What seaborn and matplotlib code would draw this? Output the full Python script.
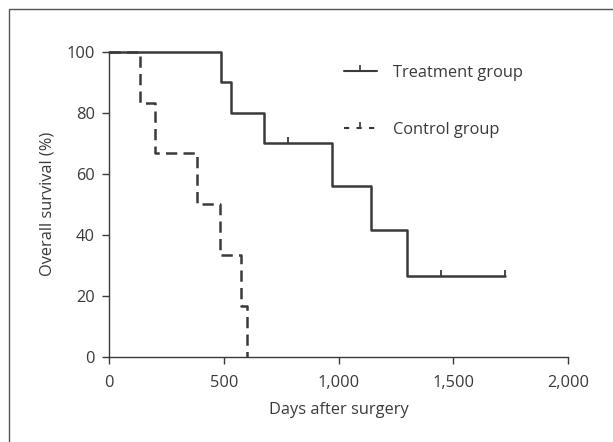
import numpy as np
import pandas as pd
import matplotlib
matplotlib.use("Agg")
import matplotlib.pyplot as plt
from matplotlib.lines import Line2D
from matplotlib.patches import Rectangle
from matplotlib.ticker import FuncFormatter
import seaborn as sns

# data
treat_days = [0, 488, 532, 675, 970, 1140, 1299, 1726]
treat_surv = [100, 90, 80, 70, 56, 41.5, 26.5, 26.5]
treat_cens_days = [779, 1445, 1726]
treat_cens_surv = [70, 26.5, 26.5]
ctrl_days = [0, 135, 200, 382, 484, 575, 600]
ctrl_surv = [100, 83.3, 66.7, 50, 33.3, 16.7, 0]
x_ticks = [0, 500, 1000, 1500, 2000]
y_ticks = [0, 20, 40, 60, 80, 100]
labels = ["Treatment group", "Control group"]

sns.set_theme(style="white")
plt.rcParams['font.family'] = ['Open Sans', 'DejaVu Sans']

ink = "#3a3a3a"
fs = 11.8
fig = plt.figure(figsize=(6.13, 4.42), dpi=100)
ax = fig.add_axes([109/613, 1-357/442, 459/613, (357-51.7)/442])

df_t = pd.DataFrame({"day": treat_days, "surv": treat_surv})
df_c = pd.DataFrame({"day": ctrl_days, "surv": ctrl_surv})
sns.lineplot(data=df_t, x="day", y="surv", ax=ax, drawstyle="steps-post",
             estimator=None, color=ink, lw=1.8, clip_on=False)
sns.lineplot(data=df_c, x="day", y="surv", ax=ax, drawstyle="steps-post",
             estimator=None, color=ink, lw=1.8, dashes=False, clip_on=False,
             linestyle=(0, (4.5, 2.5)))
tick_marker = [(0, 0), (0, 1)]
ax.plot(treat_cens_days, treat_cens_surv, linestyle="none", marker=tick_marker,
        markersize=9, markeredgewidth=1.3, color=ink, clip_on=False)

ax.set_xlim(0, 2000)
ax.set_ylim(0, 100)
ax.set_xticks(x_ticks)
ax.set_yticks(y_ticks)
ax.xaxis.set_major_formatter(FuncFormatter(lambda v, p: f"{v:,.0f}"))
ax.set_xlabel("Days after surgery", fontsize=fs, color=ink, labelpad=8)
ax.set_ylabel("Overall survival (%)", fontsize=fs, color=ink, labelpad=8)
ax.tick_params(axis="both", which="major", direction="out", length=5, width=1,
               color=ink, labelcolor=ink, labelsize=fs,
               bottom=True, left=True)
ax.tick_params(axis="x", pad=8)
ax.tick_params(axis="y", pad=5)
for s in ["top", "right"]:
    ax.spines[s].set_visible(False)
for s in ["left", "bottom"]:
    ax.spines[s].set_color(ink)
    ax.spines[s].set_linewidth(1.0)

handles = [
    Line2D([], [], color=ink, lw=1.5, marker=tick_marker, markersize=8,
           markeredgewidth=1.2),
    Line2D([], [], color=ink, lw=1.5, linestyle=(0, (2.5, 3.5)),
           marker=tick_marker, markersize=8, markeredgewidth=1.2),
]
leg = ax.legend(handles, labels, loc="upper left",
                bbox_to_anchor=((344-109)/459, 1 - (65-51.7)/305.3),
                frameon=False, fontsize=fs, handlelength=2.0,
                handletextpad=1.0, labelspacing=2.5, borderpad=0,
                borderaxespad=0)
for t in leg.get_texts():
    t.set_color(ink)

fig.add_artist(Rectangle((9/613, -0.2), 1.2, 1.2 - 9/442,
                         transform=fig.transFigure, fill=False,
                         edgecolor="#555555", lw=1.0))
fig.savefig("out.png", dpi=100)
